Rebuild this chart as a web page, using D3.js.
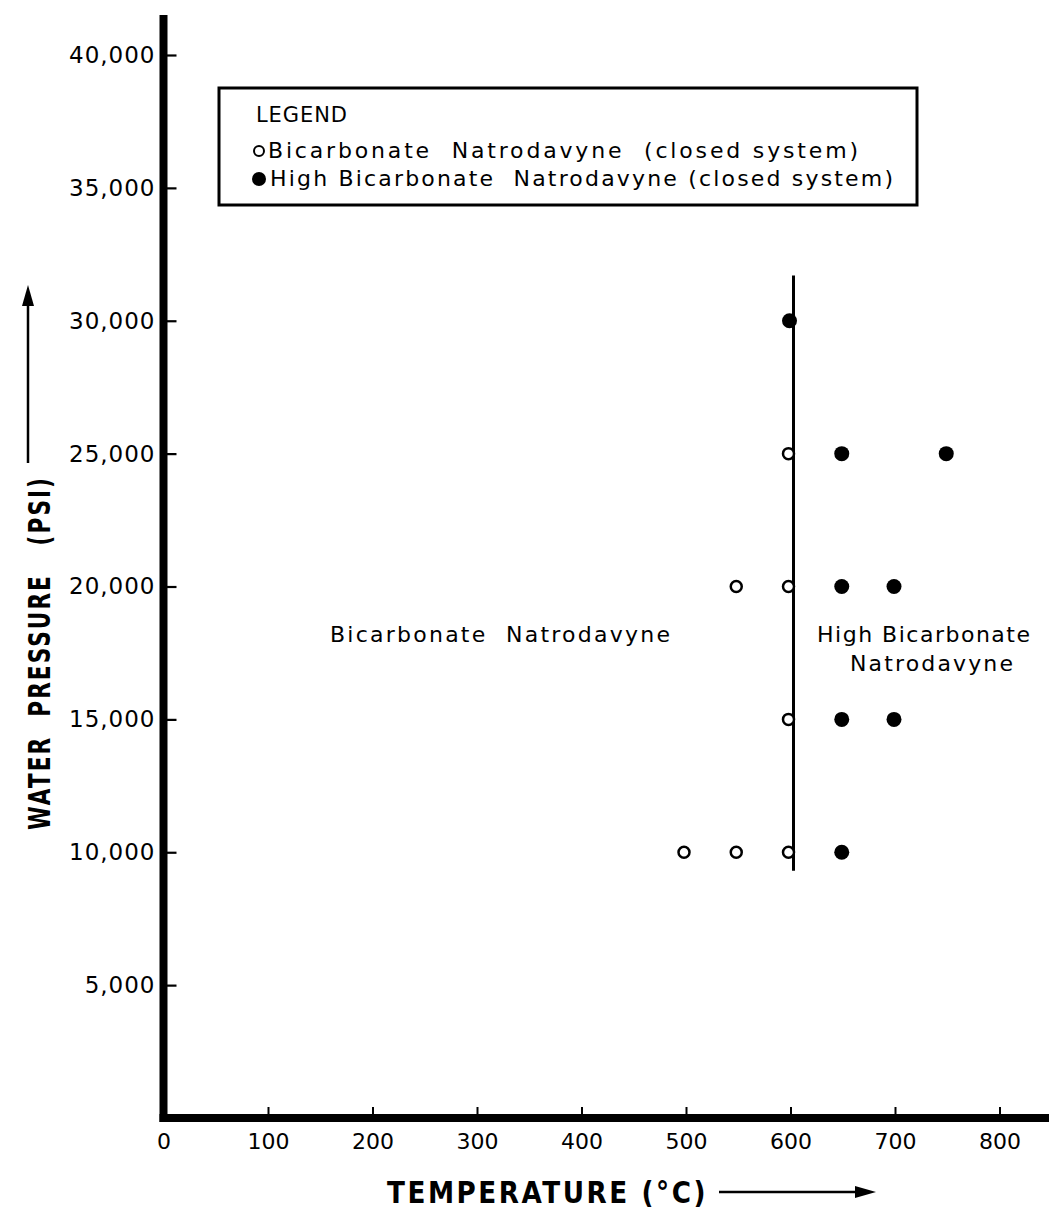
<!DOCTYPE html>
<html>
<head>
<meta charset="utf-8">
<script src="https://cdn.jsdelivr.net/npm/d3@7"></script>
<style>
  body { margin: 0; background: #fff; }
  svg text { font-family: "DejaVu Sans", sans-serif; fill: #000; }
</style>
</head>
<body>
<svg id="chart" width="1049" height="1209"></svg>
<script>
// data
var openTemp   = [500, 550, 600, 600, 550, 600, 600];
var openPress  = [10000, 10000, 10000, 15000, 20000, 20000, 25000];
var fillTemp   = [600, 650, 750, 650, 700, 650, 700, 650];
var fillPress  = [30000, 25000, 25000, 20000, 20000, 15000, 15000, 10000];
var xTicks = [0, 100, 200, 300, 400, 500, 600, 700, 800];
var yTicks = [5000, 10000, 15000, 20000, 25000, 30000, 35000, 40000];
var boundaryTemp = 600;
var boundaryPress = [9300, 31700];
var legendLabels = ["Bicarbonate  Natrodavyne  (closed system)",
                    "High Bicarbonate  Natrodavyne (closed system)"];

var svg = d3.select("#chart");
var x = d3.scaleLinear().domain([0, 800]).range([163.5, 999.5]);
var y = d3.scaleLinear().domain([0, 40000]).range([1118, 55]);

// y axis ticks + labels
var yAxis = d3.axisLeft(y).tickValues(yTicks).tickSizeInner(-13).tickSizeOuter(0)
    .tickPadding(8).tickFormat(d3.format(","));
var gy = svg.append("g").attr("transform", "translate(" + x(0) + ",0)").call(yAxis);
gy.select(".domain").remove();
gy.selectAll(".tick line").attr("stroke", "#000").attr("stroke-width", 2.2);
gy.selectAll(".tick text").style("font-size", "23px").attr("letter-spacing", "1px");

// x axis ticks + labels
var xAxis = d3.axisBottom(x).tickValues(xTicks).tickSizeInner(-11).tickSizeOuter(0)
    .tickPadding(15).tickFormat(d3.format("d"));
var gx = svg.append("g").attr("transform", "translate(0," + y(0) + ")").call(xAxis);
gx.select(".domain").remove();
gx.selectAll(".tick line").attr("stroke", "#000").attr("stroke-width", 2)
    .attr("display", function(d) { return d === 0 ? "none" : null; });
gx.selectAll(".tick text").style("font-size", "22px");

// heavy axis lines
svg.append("line").attr("x1", x(0)).attr("x2", x(0)).attr("y1", 15).attr("y2", y(0) + 4)
    .attr("stroke", "#000").attr("stroke-width", 8);
svg.append("line").attr("x1", x(0) - 4).attr("x2", 1049).attr("y1", y(0)).attr("y2", y(0))
    .attr("stroke", "#000").attr("stroke-width", 8);

// phase boundary
svg.append("line")
    .attr("x1", x(boundaryTemp) + 3).attr("x2", x(boundaryTemp) + 3)
    .attr("y1", y(boundaryPress[1])).attr("y2", y(boundaryPress[0]))
    .attr("stroke", "#000").attr("stroke-width", 3);

// open points
svg.selectAll("circle.open").data(openTemp).enter().append("circle")
    .attr("class", "open")
    .attr("cx", function(d) { return x(d) - 2; })
    .attr("cy", function(d, i) { return y(openPress[i]); })
    .attr("r", 5.5).attr("fill", "#fff").attr("stroke", "#000").attr("stroke-width", 2.5);

// filled points
svg.selectAll("circle.fill").data(fillTemp).enter().append("circle")
    .attr("class", "fill")
    .attr("cx", function(d) { return x(d) - 1; })
    .attr("cy", function(d, i) { return y(fillPress[i]); })
    .attr("r", 7.5).attr("fill", "#000");

// region labels
svg.append("text").attr("x", 330).attr("y", 642)
    .style("font-size", "22px").attr("xml:space", "preserve")
    .attr("textLength", 340).attr("lengthAdjust", "spacing").text("Bicarbonate  Natrodavyne");
svg.append("text").attr("x", 817).attr("y", 642)
    .style("font-size", "22px").attr("textLength", 213).attr("lengthAdjust", "spacing")
    .text("High Bicarbonate");
svg.append("text").attr("x", 850).attr("y", 671)
    .style("font-size", "22px").attr("textLength", 163).attr("lengthAdjust", "spacing")
    .text("Natrodavyne");

// legend
var lg = svg.append("g");
lg.append("rect").attr("x", 219).attr("y", 88).attr("width", 698).attr("height", 117)
    .attr("fill", "none").attr("stroke", "#000").attr("stroke-width", 3);
lg.append("text").attr("x", 256).attr("y", 122).style("font-size", "21px")
    .attr("textLength", 91).attr("lengthAdjust", "spacing").text("LEGEND");
lg.append("circle").attr("cx", 259).attr("cy", 151).attr("r", 5)
    .attr("fill", "#fff").attr("stroke", "#000").attr("stroke-width", 2);
lg.append("circle").attr("cx", 259).attr("cy", 179).attr("r", 7).attr("fill", "#000");
var legendX = [268, 270], legendLen = [590, 623];
lg.selectAll("text.item").data(legendLabels).enter().append("text")
    .attr("class", "item").attr("xml:space", "preserve")
    .attr("x", function(d, i) { return legendX[i]; })
    .attr("y", function(d, i) { return 158 + i * 28; })
    .attr("textLength", function(d, i) { return legendLen[i]; })
    .attr("lengthAdjust", "spacing")
    .style("font-size", "22px").text(function(d) { return d; });

// axis titles
svg.append("text").attr("x", 387).attr("y", 1203)
    .style("font-size", "31px").style("font-weight", "bold").attr("letter-spacing", "3px")
    .attr("xml:space", "preserve").attr("textLength", 321).attr("lengthAdjust", "spacingAndGlyphs")
    .text("TEMPERATURE (°C)");
svg.append("line").attr("x1", 719).attr("x2", 862).attr("y1", 1192).attr("y2", 1192)
    .attr("stroke", "#000").attr("stroke-width", 2.5);
svg.append("path").attr("d", "M855,1186 L876,1192 L855,1198 Z").attr("fill", "#000");

svg.append("text").attr("transform", "translate(50,830) rotate(-90)")
    .style("font-size", "31px").style("font-weight", "bold").attr("letter-spacing", "3px")
    .attr("xml:space", "preserve").attr("textLength", 354).attr("lengthAdjust", "spacingAndGlyphs")
    .text("WATER  PRESSURE   (PSI)");
svg.append("line").attr("x1", 28).attr("x2", 28).attr("y1", 463).attr("y2", 300)
    .attr("stroke", "#000").attr("stroke-width", 2.5);
svg.append("path").attr("d", "M22,306 L28,285 L34,306 Z").attr("fill", "#000");
</script>
</body>
</html>
